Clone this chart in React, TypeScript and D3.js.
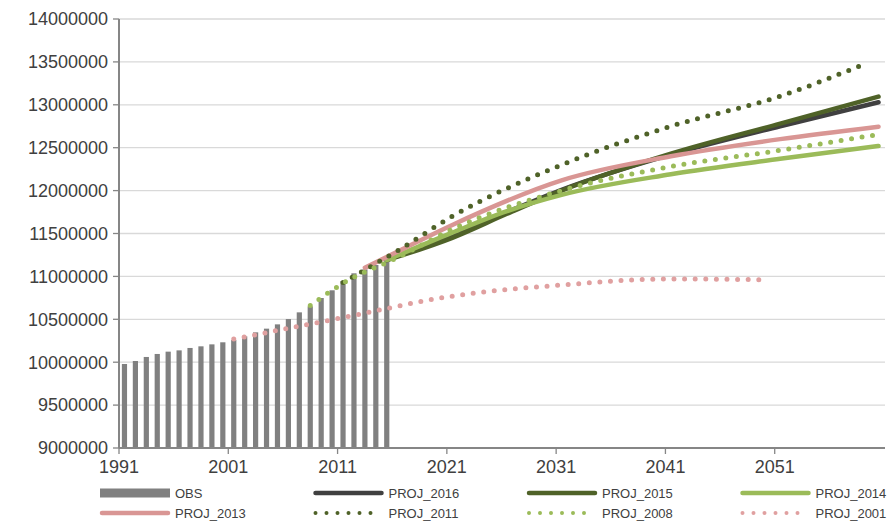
import * as d3 from 'd3'
import React from 'react'

const obsYears = d3.range(1991, 2016)
const obsValues = [
  9979000, 10014000, 10061000, 10096000, 10123000, 10138000, 10166000, 10185000, 10208000, 10232000,
  10259000, 10301000, 10348000, 10391000, 10441000, 10503000, 10581000, 10651000, 10748000, 10838000,
  10946000, 11036000, 11082000, 11133000, 11191000,
]

type Pt = [number, number]
const proj2016: Pt[] = [[2015, 11190000], [2021, 11480000], [2026, 11750000], [2031, 12010000], [2041, 12420000], [2051, 12750000], [2060, 13030000]]
const proj2015: Pt[] = [[2015, 11190000], [2021, 11450000], [2026, 11730000], [2031, 12000000], [2041, 12430000], [2051, 12780000], [2060, 13095000]]
const proj2014: Pt[] = [[2015, 11190000], [2021, 11510000], [2026, 11760000], [2031, 11950000], [2041, 12190000], [2051, 12370000], [2060, 12520000]]
const proj2013: Pt[] = [[2013, 11100000], [2016, 11290000], [2021, 11600000], [2031, 12120000], [2041, 12400000], [2051, 12600000], [2060, 12745000]]
const proj2011: Pt[] = [[2011, 10930000], [2016, 11300000], [2021, 11700000], [2031, 12300000], [2041, 12750000], [2051, 13100000], [2059, 13490000]]
const proj2008: Pt[] = [[2008, 10660000], [2011, 10920000], [2016, 11220000], [2021, 11550000], [2031, 12000000], [2041, 12280000], [2051, 12470000], [2060, 12655000]]
const proj2001: Pt[] = [[2001, 10270000], [2011, 10520000], [2021, 10770000], [2031, 10900000], [2041, 10970000], [2050, 10960000]]

const yTicks = d3.range(9000000, 14000001, 500000)
const xTicks = d3.range(1991, 2052, 10)

const series = [
  { name: 'PROJ_2016', data: proj2016, color: '#404040', dotted: false },
  { name: 'PROJ_2015', data: proj2015, color: '#4f6228', dotted: false },
  { name: 'PROJ_2014', data: proj2014, color: '#9bbb59', dotted: false },
  { name: 'PROJ_2013', data: proj2013, color: '#d99694', dotted: false },
  { name: 'PROJ_2011', data: proj2011, color: '#4f6228', dotted: true },
  { name: 'PROJ_2008', data: proj2008, color: '#9bbb59', dotted: true },
  { name: 'PROJ_2001', data: proj2001, color: '#e0a0a0', dotted: true },
]

const font = '"Liberation Sans Narrow", "Liberation Sans", Arial, sans-serif'

export default function App() {
  const x = d3.scaleLinear().domain([1991, 2061]).range([119, 884])
  const y = d3.scaleLinear().domain([9000000, 14000000]).range([448, 19])
  const line = d3
    .line<Pt>()
    .x(d => x(d[0] + 0.5))
    .y(d => y(d[1]))
    .curve(d3.curveMonotoneX)

  const legend = [{ name: 'OBS', color: '#808080', dotted: false, bar: true }, ...series.map(s => ({ ...s, bar: false }))]

  return (
    <svg width={891} height={522} style={{ position: 'absolute', left: 0, top: 0 }} fontFamily={font}>
      {yTicks.map(t => (
        <g key={t}>
          {t > 9000000 && <line x1={119} x2={885} y1={y(t)} y2={y(t)} stroke="#d9d9d9" strokeWidth={1.3} />}
          <line x1={113} x2={119} y1={y(t)} y2={y(t)} stroke="#868686" strokeWidth={1.3} />
          <text x={108} y={y(t)} dy="0.35em" textAnchor="end" fontSize={18} fill="#404040">
            {t}
          </text>
        </g>
      ))}
      {obsYears.map((yr, i) => (
        <rect key={yr} x={x(yr + 0.5) - 2.6} width={5.2} y={y(obsValues[i])} height={448 - y(obsValues[i])} fill="#808080" />
      ))}
      {series.map(s => (
        <path
          key={s.name}
          d={line(s.data) ?? ''}
          fill="none"
          stroke={s.color}
          strokeWidth={s.dotted ? 5 : 4.5}
          strokeLinecap="round"
          strokeDasharray={s.dotted ? '0 10.6' : undefined}
        />
      ))}
      <line x1={119} x2={119} y1={19} y2={448} stroke="#868686" strokeWidth={2} />
      <line x1={119} x2={885} y1={448} y2={448} stroke="#868686" strokeWidth={2} />
      {xTicks.map(t => (
        <g key={t}>
          <line x1={x(t)} x2={x(t)} y1={448} y2={454} stroke="#868686" strokeWidth={1.3} />
          <text x={x(t)} y={473} textAnchor="middle" fontSize={18} fill="#404040">
            {t}
          </text>
        </g>
      ))}
      {legend.map((l, i) => {
        const cx = 100 + (i % 4) * 213.5
        const cy = 493 + Math.floor(i / 4) * 20
        return (
          <g key={l.name}>
            {l.bar ? (
              <rect x={cx} y={cy - 4.5} width={70} height={9} fill={l.color} />
            ) : (
              <line
                x1={cx + 2}
                x2={cx + 68}
                y1={cy}
                y2={cy}
                stroke={l.color}
                strokeWidth={l.dotted ? 4 : 4.5}
                strokeLinecap="round"
                strokeDasharray={l.dotted ? '0 11' : undefined}
              />
            )}
            <text x={cx + 75} y={cy} dy="0.35em" fontSize={13} fill="#404040">
              {l.name}
            </text>
          </g>
        )
      })}
    </svg>
  )
}
